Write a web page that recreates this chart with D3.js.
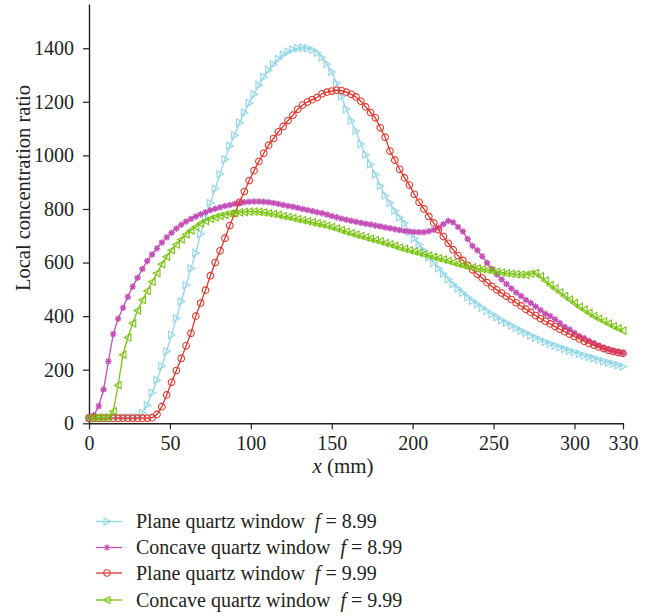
<!DOCTYPE html>
<html>
<head>
<meta charset="utf-8">
<script src="https://cdn.jsdelivr.net/npm/d3@7"></script>
<style>
  html, body { margin: 0; padding: 0; background: #fff; }
  svg { display: block; }
  text { font-family: "Liberation Serif", "DejaVu Serif", serif; fill: #231f20; }
</style>
</head>
<body>
<svg id="chart" width="660" height="616"></svg>
<script>
// ---------- data ----------
const xPositions = [
  0,3,6,9,12,15,18,21,24,27,
  30,33,36,39,42,45,48,51,54,57,
  60,63,66,69,72,75,78,81,84,87,
  90,93,96,99,102,105,108,111,114,117,
  120,123,126,129,132,135,138,141,144,147,
  150,153,156,159,162,165,168,171,174,177,
  180,183,186,189,192,195,198,201,204,207,
  210,213,216,219,222,225,228,231,234,237,
  240,243,246,249,252,255,258,261,264,267,
  270,273,276,279,282,285,288,291,294,297,
  300,303,306,309,312,315,318,321,324,327,
  330
];

const planeF899 = [
  20,20,21,21,21,22,22,22,22,22,
  23,38,68,114,161,214,269,330,392,455,
  516,578,636,707,765,822,876,930,985,1035,
  1075,1122,1160,1195,1228,1262,1293,1318,1340,1360,
  1376,1387,1395,1400,1402,1400,1394,1383,1365,1341,
  1311,1269,1220,1172,1129,1092,1042,1002,966,929,
  886,850,823,793,768,747,714,690,667,645,
  620,598,578,558,538,520,503,487,471,457,
  444,431,419,407,396,385,375,365,355,346,
  337,328,320,312,304,297,290,284,277,271,
  265,259,253,248,243,237,232,227,222,217,
  212
];

const concaveF899 = [
  19,30,64,126,231,333,390,431,472,510,
  543,576,606,630,653,675,694,711,727,741,
  753,763,772,780,788,795,801,806,811,815,
  819,822,825,827,828,828,827,825,822,819,
  815,811,808,804,800,796,792,788,784,779,
  774,769,764,760,756,752,748,745,742,738,
  735,731,728,724,721,718,716,714,713,713,
  717,722,730,743,755,750,733,716,688,662,
  646,623,599,576,556,537,520,503,488,475,
  460,449,436,422,409,400,388,374,360,350,
  337,326,318,308,300,290,282,276,271,267,
  263
];

const planeF999 = [
  19,19,19,19,19,19,19,19,19,19,
  19,19,19,21,33,62,106,153,197,242,
  289,336,400,449,497,551,600,644,691,738,
  783,825,865,906,943,978,1008,1038,1063,1088,
  1108,1130,1150,1172,1188,1199,1208,1216,1230,1236,
  1240,1243,1242,1236,1228,1218,1202,1181,1160,1140,
  1103,1068,1016,982,948,916,889,855,825,800,
  772,748,722,697,672,648,626,608,590,573,
  556,542,525,511,498,486,474,462,450,438,
  426,414,402,391,381,371,361,351,342,333,
  324,315,306,298,292,285,279,273,268,264,
  261
];

const concaveF999 = [
  20,20,21,21,22,45,142,256,320,373,
  421,460,494,528,560,594,622,646,667,686,
  705,720,733,746,755,763,769,774,778,782,
  785,787,789,790,790,789,787,784,781,778,
  773,770,766,762,758,754,750,746,742,737,
  733,727,721,715,709,704,699,694,689,684,
  679,673,668,662,656,651,646,641,636,631,
  626,621,616,611,606,600,595,590,586,582,
  578,575,572,569,566,563,560,558,556,555,
  554,558,561,549,533,516,503,489,475,462,
  449,435,424,412,400,390,381,372,362,354,
  346
];

const xTicks = [0, 50, 100, 150, 200, 250, 300, 330];
const yTicks = [0, 200, 400, 600, 800, 1000, 1200, 1400];

const seriesNames = [
  "Plane quartz window",
  "Concave quartz window",
  "Plane quartz window",
  "Concave quartz window"
];
const seriesF = ["8.99", "8.99", "9.99", "9.99"];
const seriesValues = [planeF899, concaveF899, planeF999, concaveF999];
const seriesColors = ["#8fd6e8", "#c44fb6", "#e4342a", "#78c40e"];
const seriesMarkers = ["triRight", "asterisk", "circle", "triLeft"];

// ---------- layout ----------
const svg = d3.select("#chart");
const x = d3.scaleLinear().domain([0, 330]).range([89, 623]);
const y = d3.scaleLinear().domain([0, 1565]).range([423.3, 4]);

const markerPaths = {
  triRight: "M-3,-3.6L3.6,0L-3,3.6Z",
  triLeft: "M3,-3.6L-3.6,0L3,3.6Z",
  asterisk: "M-3.2,0L3.2,0M0,-3.2L0,3.2M-2.3,-2.3L2.3,2.3M-2.3,2.3L2.3,-2.3",
  circle: d3.symbol().type(d3.symbolCircle).size(Math.PI * 3.3 * 3.3)()
};

// ---------- axes ----------
const xAxis = d3.axisBottom(x).tickValues(xTicks).tickSize(6).tickPadding(7).tickSizeOuter(0)
  .tickFormat(d3.format("d"));
const gx = svg.append("g").attr("transform", "translate(0,423.3)").call(xAxis);
const yAxis = d3.axisLeft(y).tickValues(yTicks).tickSize(6).tickPadding(9).tickSizeOuter(0)
  .tickFormat(d3.format("d"));
const gy = svg.append("g").attr("transform", "translate(89,0)").call(yAxis);

[gx, gy].forEach(g => {
  g.selectAll("path.domain").attr("stroke", "#231f20").attr("stroke-width", 1.4);
  g.selectAll(".tick line").attr("stroke", "#231f20").attr("stroke-width", 1.2);
  g.selectAll(".tick text").attr("font-family", "Liberation Serif, serif")
    .attr("font-size", 20).attr("fill", "#231f20");
});

// axis titles
svg.append("text")
  .attr("transform", "translate(30,188) rotate(-90)")
  .attr("text-anchor", "middle")
  .attr("font-size", 20.5)
  .text("Local concentration ratio");

const xl = svg.append("text")
  .attr("x", 343).attr("y", 473)
  .attr("text-anchor", "middle")
  .attr("font-size", 21);
xl.append("tspan").attr("font-style", "italic").text("x");
xl.append("tspan").text(" (mm)");

// ---------- series ----------
const line = d3.line().x((d, i) => x(xPositions[i])).y(d => y(d));

seriesValues.forEach((vals, s) => {
  const g = svg.append("g");
  g.append("path")
    .attr("d", line(vals))
    .attr("fill", "none")
    .attr("stroke", seriesColors[s])
    .attr("stroke-width", 1.3);
  g.selectAll("path.m")
    .data(vals)
    .join("path")
    .attr("class", "m")
    .attr("d", markerPaths[seriesMarkers[s]])
    .attr("transform", (d, i) => `translate(${x(xPositions[i])},${y(d)})`)
    .attr("fill", "none")
    .attr("stroke", seriesColors[s])
    .attr("stroke-width", seriesMarkers[s] === "asterisk" ? 1.4 : 1.1);
});

// ---------- legend ----------
const legendY = [521.5, 547.5, 573, 600];
seriesNames.forEach((name, s) => {
  const g = svg.append("g").attr("transform", `translate(0,${legendY[s]})`);
  g.append("line").attr("x1", 96).attr("x2", 122).attr("y1", 0).attr("y2", 0)
    .attr("stroke", seriesColors[s]).attr("stroke-width", 1.3);
  g.append("path").attr("d", markerPaths[seriesMarkers[s]])
    .attr("transform", "translate(107,0)")
    .attr("fill", "none").attr("stroke", seriesColors[s]).attr("stroke-width", 1.1);
  const t = g.append("text").attr("x", 136).attr("y", 6.5).attr("font-size", 20);
  t.append("tspan").text(name + "\u2002");
  t.append("tspan").attr("font-style", "italic").text("f");
  t.append("tspan").text(" = " + seriesF[s]);
});
</script>
</body>
</html>
